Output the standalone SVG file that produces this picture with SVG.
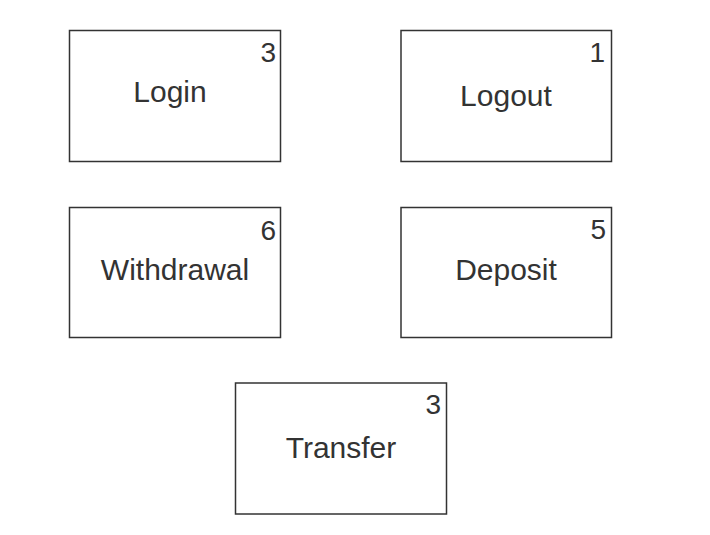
<svg xmlns="http://www.w3.org/2000/svg" width="710" height="535" viewBox="0 0 710 535">
<style>
.box{fill:#fff;stroke:#333;stroke-width:1.5}
.lbl{font-family:"Liberation Sans",Arial,sans-serif;font-size:30px;fill:#333;text-anchor:middle}
.num{font-family:"Liberation Sans",Arial,sans-serif;font-size:28px;fill:#333;text-anchor:end}
</style>
<rect width="710" height="535" fill="#fff"/>
<g id="connectors"></g>
<g id="login">
<rect class="box" x="69.5" y="30.5" width="211" height="131"/>
<text class="lbl" x="170" y="102">Login</text>
<text class="num" x="276" y="62">3</text>
</g>
<g id="logout">
<rect class="box" x="401" y="30.5" width="210.5" height="131"/>
<text class="lbl" x="506" y="106">Logout</text>
<text class="num" x="605" y="62">1</text>
</g>
<g id="withdrawal">
<rect class="box" x="69.5" y="207.5" width="211" height="130"/>
<text class="lbl" x="175" y="280">Withdrawal</text>
<text class="num" x="276" y="240">6</text>
</g>
<g id="deposit">
<rect class="box" x="401" y="207.5" width="210.5" height="130"/>
<text class="lbl" x="506" y="280">Deposit</text>
<text class="num" x="606" y="239">5</text>
</g>
<g id="transfer">
<rect class="box" x="235.5" y="383" width="211" height="131"/>
<text class="lbl" x="341" y="458">Transfer</text>
<text class="num" x="441" y="414">3</text>
</g>
</svg>
